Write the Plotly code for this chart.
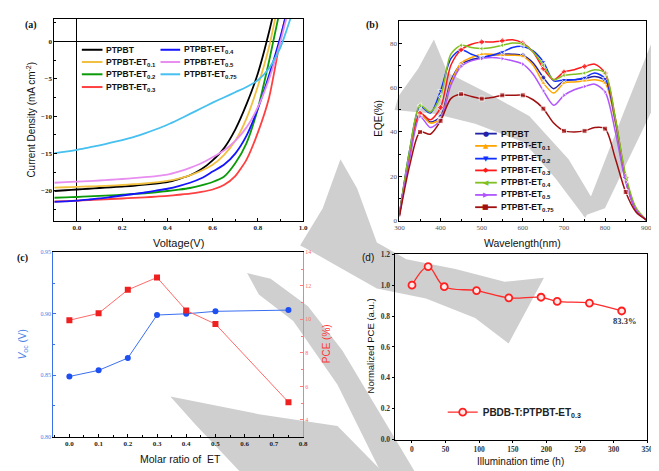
import plotly.graph_objects as go

W, H = 659, 471

# ---------------- data ----------------
# (a) J-V curves
VOLT = [-0.1, -0.05, 0.0, 0.05, 0.1, 0.15, 0.2, 0.25, 0.3, 0.35, 0.4, 0.45,
        0.5, 0.55, 0.6, 0.65, 0.7, 0.75, 0.8, 0.85, 0.9, 0.95]
J_PTPBT = [-20.0, -19.9, -19.8, -19.7, -19.6, -19.5, -19.4, -19.3, -19.15, -19.0, -18.8, -18.4,
           -17.9, -17.1, -15.9, -14.3, -11.8, -8.4, -4.3, 1.3, 8.0, None]
J_ET01 = [-19.55, -19.5, -19.45, -19.4, -19.35, -19.28, -19.2, -19.1, -19.0, -18.85, -18.65, -18.35,
          -17.9, -17.3, -16.5, -15.2, -13.3, -10.3, -6.0, -0.7, 6.5, None]
J_ET02 = [-20.9, -20.85, -20.8, -20.72, -20.65, -20.58, -20.5, -20.4, -20.3, -20.17, -20.0, -19.82,
          -19.6, -19.25, -18.8, -18.1, -16.3, -13.6, -9.0, -2.6, 4.5, None]
J_ET03 = [-21.4, -21.35, -21.3, -21.22, -21.15, -21.07, -21.0, -20.92, -20.85, -20.75, -20.65, -20.5,
          -20.35, -20.12, -19.8, -19.2, -18.0, -15.8, -12.2, -7.5, 0.3, 7.0]
J_ET04 = [-21.45, -21.38, -21.3, -21.15, -21.0, -20.8, -20.6, -20.4, -20.2, -19.95, -19.7, -19.35,
          -18.9, -18.3, -17.4, -16.5, -15.0, -12.6, -9.0, -4.5, 0.6, 6.5]
J_ET05 = [-18.9, -18.82, -18.75, -18.68, -18.6, -18.5, -18.4, -18.28, -18.15, -18.0, -17.8, -17.4,
          -16.9, -16.3, -15.5, -14.6, -13.3, -11.5, -8.8, -5.0, 0.0, 6.0]
J_ET075 = [-14.95, -14.75, -14.5, -14.2, -13.9, -13.55, -13.2, -12.8, -12.3, -11.75, -11.15, -10.45,
           -9.7, -8.95, -8.2, -7.5, -6.8, -6.1, -5.2, -3.6, -0.8, 3.6]

# (b) EQE spectra
WAVE = [300, 325, 350, 375, 400, 425, 450, 475, 500, 525, 550, 575, 600,
        625, 650, 675, 700, 725, 750, 775, 800, 825, 850, 875, 900]
EQE_PTPBT = [3, 30, 48, 44.5, 47, 63, 70.5, 72.5, 73.5, 74.5, 75, 75, 74.5, 71, 64.5, 59.5, 63, 63.5, 64, 65, 63, 45, 18, 5, 0.5]
EQE_ET01 = [3, 30, 48, 44, 46, 62, 71, 73.5, 75, 75, 74.5, 74.5, 74, 70, 62, 57.5, 62, 62.5, 63, 63.5, 62, 44, 18, 5, 0.5]
EQE_ET02 = [3, 32, 51.5, 48.5, 58.5, 73, 77, 75, 73.5, 74.5, 76, 78, 78.5, 76.5, 71.5, 63, 63.5, 63.5, 64.5, 66.5, 64, 45, 19, 5, 0.5]
EQE_ET03 = [3, 30, 48.5, 45.5, 51, 70, 77, 79.5, 80.5, 80.5, 81, 81.5, 80, 76, 68.5, 63.5, 67, 68, 69.5, 70.5, 66.5, 46, 19.5, 5.5, 0.5]
EQE_ET04 = [3, 32, 52, 49, 56, 75, 79, 78, 77.5, 78, 79, 80, 79.5, 76, 70, 63.5, 65.5, 66, 66.5, 68, 66.5, 46, 20.5, 6, 0.5]
EQE_ET05 = [2.5, 28, 47, 42, 45.5, 61, 69.5, 72, 73, 73.5, 73, 72, 70.5, 66, 58.5, 52, 56.5, 59, 60.5, 61.5, 58, 40, 17.5, 5, 0.5]
EQE_ET075 = [2, 25, 40, 39, 45, 55, 57, 56, 55, 55.5, 56.5, 56.5, 56.5, 54.5, 50.5, 44, 40.5, 40, 40.5, 42, 41.5, 28, 13, 4, 0.5]

# (c) Voc and PCE vs molar ratio of ET
MOLAR = [0.0, 0.1, 0.2, 0.3, 0.4, 0.5, 0.75]
VOC = [0.849, 0.854, 0.864, 0.899, 0.900, 0.902, 0.903]
PCE = [9.95, 10.36, 11.76, 12.5, 10.53, 9.72, 5.06]

# (d) stability
TIME_H = [0, 24, 48, 96, 144, 192, 216, 264, 312]
NORM_PCE = [1.0, 1.12, 0.99, 0.965, 0.918, 0.922, 0.895, 0.884, 0.833]

# ---------------- helpers ----------------
def px(x):
    return x / W


def py(y):
    return 1 - y / H


SANS = "Liberation Sans"
SERIF = "Liberation Serif"

fig = go.Figure()

# ---- (a) traces
JV = [
    ("PTPBT", J_PTPBT, "#000000"),
    ("PTPBT-ET<sub>0.1</sub>", J_ET01, "#f2c040"),
    ("PTPBT-ET<sub>0.2</sub>", J_ET02, "#0a9a0a"),
    ("PTPBT-ET<sub>0.3</sub>", J_ET03, "#ff4040"),
    ("PTPBT-ET<sub>0.4</sub>", J_ET04, "#1414ff"),
    ("PTPBT-ET<sub>0.5</sub>", J_ET05, "#e88ef0"),
    ("PTPBT-ET<sub>0.75</sub>", J_ET075, "#45c0f0"),
]
for name, j, c in JV:
    fig.add_trace(go.Scatter(x=VOLT, y=j, mode="lines", name=name, showlegend=False,
                             line=dict(color=c, width=1.8, shape="spline", smoothing=0.6),
                             xaxis="x", yaxis="y"))

# ---- (b) traces
EQE = [
    ("PTPBT", EQE_PTPBT, "#2222a8", "circle", "●"),
    ("PTPBT-ET<sub>0.1</sub>", EQE_ET01, "#ffa500", "triangle-up", "▲"),
    ("PTPBT-ET<sub>0.2</sub>", EQE_ET02, "#1030ff", "triangle-down", "▼"),
    ("PTPBT-ET<sub>0.3</sub>", EQE_ET03, "#ff1a1a", "diamond", "◆"),
    ("PTPBT-ET<sub>0.4</sub>", EQE_ET04, "#80c020", "triangle-left", "◀"),
    ("PTPBT-ET<sub>0.5</sub>", EQE_ET05, "#b055ff", "triangle-right", "▶"),
    ("PTPBT-ET<sub>0.75</sub>", EQE_ET075, "#a01010", "square", "■"),
]
msize = [5 if w % 50 == 0 and 300 < w < 900 else 0 for w in WAVE]
for name, e, c, sym, _ in EQE:
    fig.add_trace(go.Scatter(x=WAVE, y=e, mode="lines+markers", name=name, showlegend=False,
                             line=dict(color=c, width=1.5, shape="spline", smoothing=0.8),
                             marker=dict(symbol=sym, size=msize, color=c),
                             xaxis="x2", yaxis="y2"))

# ---- (c) traces
fig.add_trace(go.Scatter(x=MOLAR, y=VOC, mode="lines+markers", showlegend=False, name="Voc",
                         line=dict(color="#3a6ff0", width=1),
                         marker=dict(symbol="circle", size=6, color="#1e4ff0"),
                         xaxis="x3", yaxis="y3"))
fig.add_trace(go.Scatter(x=MOLAR, y=PCE, mode="lines+markers", showlegend=False, name="PCE",
                         line=dict(color="#ff6a6a", width=1),
                         marker=dict(symbol="square", size=6, color="#ee2020"),
                         xaxis="x3", yaxis="y5"))

# ---- (d) trace
fig.add_trace(go.Scatter(x=TIME_H, y=NORM_PCE, mode="lines+markers",
                         name="<b>PBDB-T:PTPBT-ET<sub>0.3</sub></b>", showlegend=True,
                         line=dict(color="#ff2a2a", width=1.3, shape="spline", smoothing=1.0),
                         marker=dict(symbol="circle", size=7, color="#ffe8e8",
                                     line=dict(color="#ff2020", width=1.8)),
                         xaxis="x4", yaxis="y4"))

# ---------------- axes ----------------
def tf(size=7, color="#222", family=SERIF, bold=True):
    return dict(family=family, size=size, color=color, weight="bold" if bold else "normal")


base = dict(showgrid=False, showline=True, linecolor="#000", linewidth=1, ticks="inside",
            ticklen=3, tickcolor="#000", tickwidth=1, zeroline=False)

layout = dict(
    width=W, height=H, margin=dict(l=0, r=0, t=0, b=0),
    paper_bgcolor="white", plot_bgcolor="rgba(0,0,0,0)",
    xaxis=dict(base, domain=[px(42), px(295)], range=[-0.1, 1.0], anchor="y", mirror=True,
               tick0=0, dtick=0.2, tickformat=".1f", tickfont=tf(7),
               minor=dict(dtick=0.1, ticks="inside", ticklen=2, tickcolor="#000"),
               zeroline=True, zerolinecolor="#000", zerolinewidth=1),
    yaxis=dict(base, domain=[py(213), py(7)], range=[-24, 3], anchor="x", mirror=True,
               tick0=0, dtick=5, tickfont=tf(7),
               minor=dict(dtick=2.5, ticks="inside", ticklen=2, tickcolor="#000"),
               zeroline=True, zerolinecolor="#000", zerolinewidth=1),
    xaxis2=dict(base, domain=[px(393), px(644)], range=[300, 900], anchor="y2", mirror=True,
                dtick=100, tickfont=tf(7, "#555", bold=False),
                minor=dict(dtick=50, ticks="inside", ticklen=2, tickcolor="#000")),
    yaxis2=dict(base, domain=[py(213), py(9)], range=[0, 90], anchor="x2", mirror=True,
                dtick=20, tickfont=tf(7, "#555", bold=False),
                minor=dict(dtick=10, ticks="inside", ticklen=2, tickcolor="#000")),
    xaxis3=dict(base, domain=[px(41), px(295)], range=[-0.055, 0.8], anchor="y3", mirror=True,
                dtick=0.1, tickformat=".1f", tickfont=tf(7),
                minor=dict(dtick=0.05, ticks="inside", ticklen=2, tickcolor="#000")),
    yaxis3=dict(base, domain=[py(433), py(245)], range=[0.80, 0.95], anchor="x3",
                linecolor="#3a72e8", tickcolor="#3a72e8", dtick=0.05, tickformat=".2f",
                tickfont=tf(6, "#4a7fe8", bold=False),
                minor=dict(dtick=0.025, ticks="inside", ticklen=2, tickcolor="#3a72e8")),
    yaxis5=dict(base, range=[3, 14], overlaying="y3", side="right", anchor="x3",
                linecolor="#ff7a7a", tickcolor="#ff7a7a", dtick=2,
                tickfont=tf(6, "#ff6a6a", bold=False),
                minor=dict(dtick=1, ticks="inside", ticklen=2, tickcolor="#ff7a7a")),
    xaxis4=dict(base, domain=[px(388), px(645)], range=[-26, 350], anchor="y4", mirror=True,
                ticks="outside", ticklen=2, dtick=50, tickfont=tf(7.5, "#333")),
    yaxis4=dict(base, domain=[py(436), py(247)], range=[0, 1.2], anchor="x4", mirror=True,
                ticks="outside", ticklen=2, dtick=0.2, tickformat=".1f", tickfont=tf(7.5, "#333")),
    legend=dict(x=px(437), y=py(408), xanchor="left", yanchor="middle",
                bgcolor="rgba(0,0,0,0)", borderwidth=0,
                font=dict(family=SANS, size=10, color="#222")),
)
fig.update_layout(**layout)

# ---------------- text & hand-drawn legends ----------------
ann = []
shapes = []


def text(x, y, s, size=10, family=SANS, color="#111", angle=0, xanchor="center", bold=False):
    ann.append(dict(x=px(x), y=py(y), xref="paper", yref="paper", text=s, showarrow=False,
                    xanchor=xanchor, yanchor="middle", textangle=angle,
                    font=dict(family=family, size=size, color=color,
                              weight="bold" if bold else "normal")))


# panel labels
text(18, 13, "(a)", 10, SERIF, "#111", bold=True)
text(365, 13, "(b)", 10, SERIF, "#111", bold=True)
text(10, 251, "(c)", 10, SERIF, "#111", bold=True)
text(361, 250, "(d)", 10, SANS, "#111")

# axis titles
text(18, 110, "Current Density (mA cm<sup>-2</sup>)", 10, SANS, "#111", angle=-90)
text(168, 236, "Voltage(V)", 11, SANS, "#111")
text(372, 108, "EQE(%)", 10, SANS, "#111", angle=-90)
text(518, 236, "Wavelength(nm)", 10.5, SANS, "#111")
text(170, 456, "Molar ratio of  ET", 10.5, SANS, "#111")
text(10, 339, "<i>V</i><sub>oc</sub> (V)", 10, SANS, "#4a7fe8", angle=-90)
text(319, 338, "PCE (%)", 10, SANS, "#ff3a3a", angle=-90)
text(516, 458, "Illumination time (h)", 10, SANS, "#111")
text(364, 340, "Normalized PCE (a.u.)", 9.5, SANS, "#111", angle=-90)
text(622, 315, "83.3%", 8.5, SERIF, "#333", bold=True)


def legend_entry(x0, x1, xt, y, color, label, glyph=None, lw=2):
    shapes.append(dict(type="line", xref="paper", yref="paper", x0=px(x0), x1=px(x1),
                       y0=py(y), y1=py(y), line=dict(color=color, width=lw)))
    if glyph:
        ann.append(dict(x=px((x0 + x1) / 2), y=py(y), xref="paper", yref="paper", text=glyph,
                        showarrow=False, xanchor="center", yanchor="middle",
                        font=dict(family="DejaVu Sans", size=7, color=color)))
    text(xt, y, "<b>" + label + "</b>", 8.5, SANS, "#111", xanchor="left")


# legend (a): two columns
rows_a = [38.5, 51, 63.5, 76.5]
for i, (name, _, c) in enumerate(JV[:4]):
    legend_entry(70, 91, 93, rows_a[i], c, name)
for i, (name, _, c) in enumerate(JV[4:]):
    legend_entry(150, 170, 172, rows_a[i], c, name)

# legend (b)
rows_b = [124, 136.5, 149.5, 161.5, 174, 186.5, 199]
for i, (name, _, c, _, g) in enumerate(EQE):
    legend_entry(470, 492, 494, rows_b[i], c, name, glyph=g, lw=1.8)

# grey background watermark (decoration behind the charts)
WATERMARK = [
    [(428, 28), (442, 62), (485, 84), (525, 106), (565, 150), (590, 192), (582, 210),
     (552, 170), (520, 133), (470, 114), (430, 104), (388, 100), (392, 86), (412, 58)],
    [(580, 208), (622, 100), (648, 35), (659, 12), (659, 65), (650, 100), (602, 200)],
    [(333, 150), (350, 180), (370, 235), (400, 252), (450, 262), (500, 275), (540, 271),
     (504, 338), (470, 312), (420, 292), (370, 282), (335, 262), (300, 242), (292, 238),
     (315, 200)],
    [(238, 266), (262, 272), (300, 300), (335, 345), (410, 471), (375, 471), (330, 380),
     (285, 315), (250, 288)],
    [(160, 392), (250, 410), (330, 422), (378, 471), (233, 471), (185, 420)],
]
for poly in WATERMARK:
    path = "M " + " L ".join(f"{px(x):.4f},{py(y):.4f}" for x, y in poly) + " Z"
    shapes.append(dict(type="path", xref="paper", yref="paper", path=path, layer="below",
                       fillcolor="#cfcfcf", line=dict(width=0)))

fig.update_layout(annotations=ann, shapes=shapes)
fig.write_html("out.html")
